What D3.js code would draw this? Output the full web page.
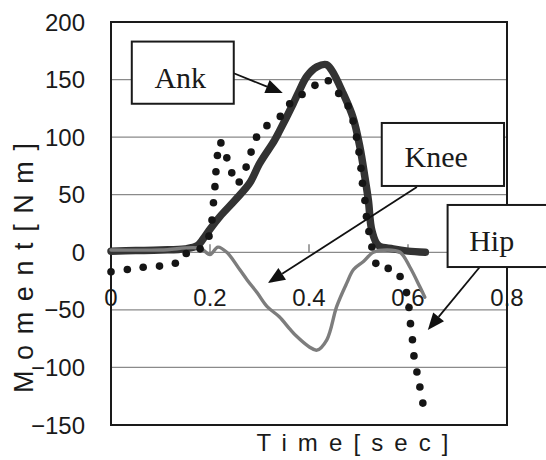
<!DOCTYPE html>
<html><head><meta charset="utf-8">
<script src="https://cdn.jsdelivr.net/npm/d3@7"></script>
<style>body{margin:0;background:#fff}</style>
</head><body><svg id="c" width="546" height="460"></svg>
<script>
// ---- data ----
const yTickValues = [200, 150, 100, 50, 0, -50, -100, -150];
const yTickLabels = ["200", "150", "100", "50", "0", "\u221250", "\u2212100", "\u2212150"];
const xTickValues = [0, 0.2, 0.4, 0.6, 0.8];
const xTickLabels = ["0", "0.2", "0.4", "0.6", "0.8"];

const ankTime   = [0, 0.05, 0.1, 0.15, 0.175, 0.19, 0.2, 0.22, 0.25, 0.28, 0.3, 0.33, 0.34, 0.368, 0.38, 0.396, 0.416, 0.435, 0.446, 0.469, 0.489, 0.503, 0.513, 0.52, 0.527, 0.54, 0.57, 0.6, 0.635];
const ankMoment = [1, 1.5, 2, 3, 6, 14, 20, 31, 45, 60, 77, 97, 105, 129, 140, 153, 161, 163, 158, 138, 117, 91, 65, 45, 19, 6, 3, 1, 0];

const kneeTime   = [0, 0.1, 0.18, 0.2, 0.216, 0.234, 0.26, 0.275, 0.295, 0.315, 0.34, 0.362, 0.375, 0.4, 0.416, 0.436, 0.456, 0.476, 0.49, 0.51, 0.53, 0.557, 0.584, 0.604, 0.624, 0.634];
const kneeMoment = [2, 2, 3.5, -2, 4.5, 0, -15, -24, -35, -47, -56, -67, -73, -82, -85, -76, -47, -27, -15, -8, 0, 2, 0, -13, -30, -39];

const hipTime   = [0, 0.033, 0.065, 0.098, 0.13, 0.152, 0.18, 0.198, 0.204, 0.207, 0.21, 0.212, 0.215, 0.222, 0.234, 0.244, 0.259, 0.273, 0.283, 0.294, 0.315, 0.342, 0.361, 0.386, 0.412, 0.439, 0.46, 0.479, 0.489, 0.496, 0.501, 0.505, 0.508, 0.513, 0.516, 0.521, 0.527, 0.535, 0.56, 0.584, 0.597, 0.602, 0.605, 0.609, 0.612, 0.618, 0.624, 0.63];
const hipMoment = [-17, -15, -13, -12, -9.5, -1, 3, 14, 28, 43, 57, 70, 84, 95, 82, 69, 61, 74, 87, 100, 110, 118, 129, 137, 145, 149, 138, 127, 114, 100, 87, 73, 60, 45, 31, 18, 4.6, -9.6, -14, -21, -35, -48, -62, -76, -90, -104, -117, -131];

// annotation callouts (data units): box x0,x1,yTop,yBottom ; text anchor ; arrow from -> to
const calloutNames = ["Ank", "Knee", "Hip"];
const calloutBoxes = [[0.042, 0.248, 183, 129], [0.547, 0.794, 112.3, 57.6], [0.68, 0.93, 41.1, -12.8]];
const calloutText  = [[0.140, 142.6], [0.657, 74], [0.769, 1.1]];
const calloutArrow = [[0.248, 155.5, 0.347, 138.4], [0.618, 56.7, 0.317, -26.7], [0.745, -12.8, 0.640, -67.5]];

// ---- chart ----
const svg = d3.select("#c");
const x = d3.scaleLinear().domain([0, 0.8]).range([111, 507]);
const y = d3.scaleLinear().domain([-150, 200]).range([425, 22]);

// gridlines
svg.append("g").selectAll("line").data(yTickValues.filter(v => v !== 200 && v !== -150))
  .join("line")
  .attr("x1", x(0)).attr("x2", x(0.8))
  .attr("y1", d => y(d)).attr("y2", d => y(d))
  .attr("stroke", "#8a8a8a").attr("stroke-width", 1.2);

// x-axis tick marks on the zero line
svg.append("g").selectAll("line").data(xTickValues.slice(1))
  .join("line")
  .attr("x1", d => x(d)).attr("x2", d => x(d))
  .attr("y1", y(0)).attr("y2", y(0) - 8)
  .attr("stroke", "#666").attr("stroke-width", 1.2);

// plot border
svg.append("rect")
  .attr("x", x(0)).attr("y", y(200))
  .attr("width", x(0.8) - x(0)).attr("height", y(-150) - y(200))
  .attr("fill", "none").attr("stroke", "#1a1a1a").attr("stroke-width", 2);

// y tick labels
svg.append("g").selectAll("text").data(yTickValues)
  .join("text")
  .attr("x", 85).attr("y", d => y(d) + 8.6)
  .attr("text-anchor", "end")
  .attr("font-family", "Liberation Sans, Arial, sans-serif")
  .attr("font-size", 24).attr("fill", "#1a1a1a")
  .text((d, i) => yTickLabels[i]);

// x tick labels
svg.append("g").selectAll("text").data(xTickValues)
  .join("text")
  .attr("x", d => x(d)).attr("y", 306)
  .attr("text-anchor", "middle")
  .attr("font-family", "Liberation Sans, Arial, sans-serif")
  .attr("font-size", 24).attr("fill", "#1a1a1a")
  .text((d, i) => xTickLabels[i]);

// axis titles
svg.append("text")
  .attr("transform", "translate(33,268) rotate(-90)")
  .attr("text-anchor", "middle")
  .attr("font-family", "Liberation Sans, Arial, sans-serif")
  .attr("font-size", 27).attr("fill", "#1a1a1a")
  .attr("textLength", 250).attr("lengthAdjust", "spacing")
  .text("Moment[Nm]");

svg.append("text")
  .attr("x", 352.5).attr("y", 451)
  .attr("text-anchor", "middle")
  .attr("font-family", "Liberation Sans, Arial, sans-serif")
  .attr("font-size", 24).attr("fill", "#1a1a1a")
  .attr("textLength", 192).attr("lengthAdjust", "spacing")
  .text("Time[sec]");

// series
const line = d3.line().x(d => x(d[0])).y(d => y(d[1])).curve(d3.curveCatmullRom.alpha(0.5));
const ank = ankTime.map((t, i) => [t, ankMoment[i]]);
const knee = kneeTime.map((t, i) => [t, kneeMoment[i]]);
const hip = hipTime.map((t, i) => [t, hipMoment[i]]);

svg.append("path").datum(ank).attr("d", line)
  .attr("fill", "none").attr("stroke", "#333").attr("stroke-width", 7.5)
  .attr("stroke-linejoin", "round").attr("stroke-linecap", "round");

svg.append("path").datum(knee).attr("d", line)
  .attr("fill", "none").attr("stroke", "#7d7d7d").attr("stroke-width", 3.4)
  .attr("stroke-linejoin", "round").attr("stroke-linecap", "round");

svg.append("g").selectAll("circle").data(hip).join("circle")
  .attr("cx", d => x(d[0])).attr("cy", d => y(d[1])).attr("r", 3.8)
  .attr("fill", "#151515");

// callouts
calloutNames.forEach((name, i) => {
  const [ax0, ay0, ax1, ay1] = calloutArrow[i];
  const sx = x(ax0), sy = y(ay0), ex = x(ax1), ey = y(ay1);
  const ang = Math.atan2(ey - sy, ex - sx);
  const L = 17, W = 7;
  const bx = ex - L * Math.cos(ang), by = ey - L * Math.sin(ang);
  svg.append("line").attr("x1", sx).attr("y1", sy).attr("x2", bx).attr("y2", by)
    .attr("stroke", "#111").attr("stroke-width", 1.8);
  svg.append("polygon")
    .attr("points", [[ex, ey],
      [bx + W * Math.sin(ang), by - W * Math.cos(ang)],
      [bx - W * Math.sin(ang), by + W * Math.cos(ang)]].map(p => p.join(",")).join(" "))
    .attr("fill", "#111");
  const [x0, x1, yt, yb] = calloutBoxes[i];
  svg.append("rect")
    .attr("x", x(x0)).attr("y", y(yt))
    .attr("width", x(x1) - x(x0)).attr("height", y(yb) - y(yt))
    .attr("fill", "#fff").attr("stroke", "#1a1a1a").attr("stroke-width", 2);
  svg.append("text")
    .attr("x", x(calloutText[i][0])).attr("y", y(calloutText[i][1]))
    .attr("text-anchor", "middle")
    .attr("font-family", "Liberation Serif, Times New Roman, serif")
    .attr("font-size", 30).attr("fill", "#1a1a1a")
    .text(name);
});
</script>
</body></html>
